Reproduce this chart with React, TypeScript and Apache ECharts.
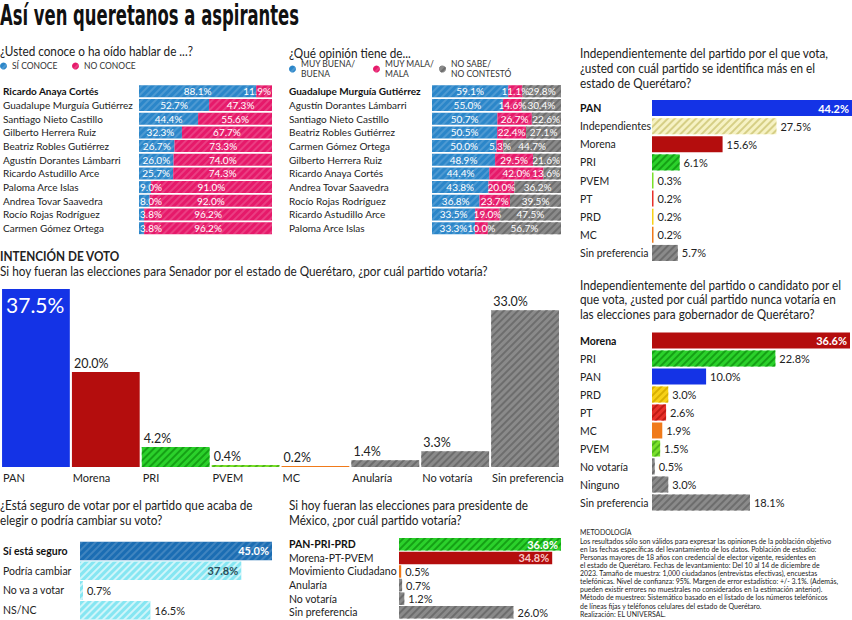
import React, { useEffect, useRef } from 'react';
import * as echarts from 'echarts';

const FONT = 'Lato, "Liberation Sans", sans-serif';
const TITLE_FONT = '"Liberation Sans Narrow", "DejaVu Sans Condensed", Roboto, sans-serif';

// ---------- DATA ----------
const conoceNames = ['Ricardo Anaya Cortés', 'Guadalupe Murguía Gutiérrez', 'Santiago Nieto Castillo', 'Gilberto Herrera Ruiz', 'Beatriz Robles Gutiérrez', 'Agustín Dorantes Lámbarri', 'Ricardo Astudillo Arce', 'Paloma Arce Islas', 'Andrea Tovar Saavedra', 'Rocío Rojas Rodríguez', 'Carmen Gómez Ortega'];
const siConoce = [88.1, 52.7, 44.4, 32.3, 26.7, 26.0, 25.7, 9.0, 8.0, 3.8, 3.8];
const noConoce = [11.9, 47.3, 55.6, 67.7, 73.3, 74.0, 74.3, 91.0, 92.0, 96.2, 96.2];

const opinionNames = ['Guadalupe Murguía Gutiérrez', 'Agustín Dorantes Lámbarri', 'Santiago Nieto Castillo', 'Beatriz Robles Gutiérrez', 'Carmen Gómez Ortega', 'Gilberto Herrera Ruiz', 'Ricardo Anaya Cortés', 'Andrea Tovar Saavedra', 'Rocío Rojas Rodríguez', 'Ricardo Astudillo Arce', 'Paloma Arce Islas'];
const opBuena = [59.1, 55.0, 50.7, 50.5, 50.0, 48.9, 44.4, 43.8, 36.8, 33.5, 33.3];
const opMala = [11.1, 14.6, 26.7, 22.4, 5.3, 29.5, 42.0, 20.0, 23.7, 19.0, 10.0];
const opNoSabe = [29.8, 30.4, 22.6, 27.1, 44.7, 21.6, 13.6, 36.2, 39.5, 47.5, 56.7];

const identCats = ['PAN', 'Independientes', 'Morena', 'PRI', 'PVEM', 'PT', 'PRD', 'MC', 'Sin preferencia'];
const identVals = [44.2, 27.5, 15.6, 6.1, 0.3, 0.2, 0.2, 0.2, 5.7];

const senadoCats = ['PAN', 'Morena', 'PRI', 'PVEM', 'MC', 'Anularía', 'No votaría', 'Sin preferencia'];
const senadoVals = [37.5, 20.0, 4.2, 0.4, 0.2, 1.4, 3.3, 33.0];

const nuncaCats = ['Morena', 'PRI', 'PAN', 'PRD', 'PT', 'MC', 'PVEM', 'No votaría', 'Ninguno', 'Sin preferencia'];
const nuncaVals = [36.6, 22.8, 10.0, 3.0, 2.6, 1.9, 1.5, 0.5, 3.0, 18.1];

const seguroCats = ['Sí está seguro', 'Podría cambiar', 'No va a votar', 'NS/NC'];
const seguroVals = [45.0, 37.8, 0.7, 16.5];

const presiCats = ['PAN-PRI-PRD', 'Morena-PT-PVEM', 'Movimiento Ciudadano', 'Anularía', 'No votaría', 'Sin preferencia'];
const presiVals = [36.8, 34.8, 0.5, 0.7, 1.2, 26.0];

const METODOLOGIA = 'Los resultados sólo son válidos para expresar las opiniones de la población objetivo\nen las fechas específicas del levantamiento de los datos. Población de estudio:\nPersonas mayores de 18 años con credencial de elector vigente, residentes en\nel estado de Querétaro. Fechas de levantamiento: Del 10 al 14 de diciembre de\n2023. Tamaño de muestra: 1,000 ciudadanos (entrevistas efectivas), encuestas\ntelefónicas. Nivel de confianza: 95%. Margen de error estadístico: +/- 3.1%. (Además,\npueden existir errores no muestrales no considerados en la estimación anterior).\nMétodo de muestreo: Sistemático basado en el listado de los números telefónicos\nde líneas fijas y teléfonos celulares del estado de Querétaro.\nRealización: EL UNIVERSAL.';

// ---------- STYLES ----------
const BLUE = '#2b86c9';
const PINK = '#e6196a';
const GRAY = '#8a8a8a';
const PAN = '#1433e6';
const MORENA = '#b40d0d';
const PRI = '#2bd12b';
const PVEM = '#7ae02a';
const PT = '#e8302a';
const PRD = '#f7d117';
const MC = '#f07a1a';
const INDEP = '#f6f2c4';
const DKBLUE = '#1b6db3';
const CYAN = '#86e6f2';

function hatch(color: string) {
  return { symbol: 'rect', symbolSize: 1, color, dashArrayX: [1, 0], dashArrayY: [1.5, 3], rotation: -Math.PI / 4 };
}
const H_GRAY = hatch('#6d6d6d');
const H_SOFT = hatch('rgba(255,255,255,0.16)');

const pct = (v: number) => v.toFixed(1) + '%';

function catAxis(gridIndex: number, data: string[], margin: number, fontSize = 10.5) {
  return {
    type: 'category', gridIndex, data, inverse: true,
    axisLine: { show: false }, axisTick: { show: false }, splitLine: { show: false },
    axisLabel: {
      interval: 0, align: 'left', margin, color: '#222', fontFamily: FONT, fontSize,
      formatter: (v: string, i: number) => (i === 0 ? `{b|${v}}` : v),
      rich: { b: { fontWeight: 'bold', fontFamily: FONT, fontSize, color: '#111' } },
    },
  };
}
function valAxis(gridIndex: number, max: number) {
  return { type: 'value', gridIndex, min: 0, max, show: false };
}

function hbar(idx: number, vals: number[], colors: string[], decals: any[], barWidth: number, inside: Record<number, string>) {
  return {
    type: 'bar', xAxisIndex: idx, yAxisIndex: idx, barWidth, barMinHeight: 1.5,
    data: vals.map((v, i) => ({
      value: v,
      itemStyle: decals[i] ? { color: colors[i], decal: decals[i] } : { color: colors[i] },
      label: inside[i] !== undefined
        ? { position: 'insideRight', distance: 3, color: inside[i], fontWeight: 'bold' }
        : {},
    })),
    label: {
      show: true, position: 'right', distance: 4, fontFamily: FONT, fontSize: 11, color: '#222',
      formatter: (p: any) => pct(p.value),
    },
  };
}

const SX = 0.87;
const gtext = (text: string, x: number, y: number, fontSize: number, lineHeight: number, bold = false, scaleX = SX) => ({
  type: 'text', x, y, scaleX,
  style: { text, fontSize, lineHeight, fontWeight: bold ? 'bold' : 'normal', fontFamily: FONT, fill: '#222', verticalAlign: 'top' },
});

const legendItem = (name: string, left: number, top: number) => ({
  data: [name], left, top, padding: 0, itemGap: 0, icon: 'circle', itemWidth: 7, itemHeight: 7,
  selectedMode: false,
  textStyle: { fontFamily: FONT, fontSize: 8.5, color: '#333', lineHeight: 10 },
});

export default function App() {
  const ref = useRef<HTMLDivElement>(null);
  useEffect(() => {
    if (!ref.current) return;
    const chart = echarts.init(ref.current, undefined, { renderer: 'svg' });
    const segLabel = { show: true, position: 'inside', color: '#fff', fontFamily: FONT, fontSize: 10, formatter: (p: any) => pct(p.value) };
    const endLabel = (limit: number) => (v: number) => (v < limit ? { value: v, label: { position: 'insideRight', distance: 1 } } : v);
    const option: any = {
      animation: false,
      backgroundColor: '#fff',
      graphic: [
        {
          type: 'text', x: 0, y: 1, scaleX: 0.63,
          style: { text: 'Así ven queretanos a aspirantes', fontSize: 29, fontWeight: 'bold', fontFamily: TITLE_FONT, fill: '#111', verticalAlign: 'top' },
        },
        gtext('¿Usted conoce o ha oído hablar de ...?', 0, 44, 13.5, 15),
        gtext('¿Qué opinión tiene de...', 289, 46, 13.5, 15),
        gtext('Independientemente del partido por el que vota,\n¿usted con cuál partido se identifica más en el\nestado de Querétaro?', 580, 46, 13.5, 14.7),
        gtext('INTENCIÓN DE VOTO', 0, 249, 13.5, 15, true),
        gtext('Si hoy fueran las elecciones para Senador por el estado de Querétaro, ¿por cuál partido votaría?', 0, 264, 13.5, 15),
        gtext('Independientemente del partido o candidato por el\nque vota, ¿usted por cuál partido nunca votaría en\nlas elecciones para gobernador de Querétaro?', 580, 278, 13.5, 14.3),
        gtext('¿Está seguro de votar por el partido que acaba de\nelegir o podría cambiar su voto?', 0, 498, 13.5, 14.5),
        gtext('Si hoy fueran las elecciones para presidente de\nMéxico, ¿por cuál partido votaría?', 289, 498, 13.5, 14.5),
        gtext('METODOLOGÍA', 580, 528, 8, 9),
        gtext(METODOLOGIA, 580, 537, 8, 8.1),
      ],
      legend: [
        legendItem('SÍ CONOCE', 0, 61),
        legendItem('NO CONOCE', 72, 61),
        legendItem('MUY BUENA/\nBUENA', 289, 59),
        legendItem('MUY MALA/\nMALA', 373, 59),
        legendItem('NO SABE/\nNO CONTESTÓ', 439, 59),
      ],
      grid: [
        { left: 137, top: 84.5, width: 135, height: 150.5 },
        { left: 432, top: 84.5, width: 129, height: 150.5 },
        { left: 652, top: 99, width: 200, height: 163 },
        { left: 0, top: 289, width: 560, height: 178 },
        { left: 652, top: 331.5, width: 198, height: 180 },
        { left: 77, top: 541, width: 195, height: 81 },
        { left: 399, top: 537.5, width: 162, height: 81.5 },
      ],
      xAxis: [
        valAxis(0, 100),
        valAxis(1, 100),
        valAxis(2, 44.2),
        {
          type: 'category', gridIndex: 3, data: senadoCats,
          axisLine: { show: false }, axisTick: { show: false },
          axisLabel: {
            interval: 0, margin: 5,
            formatter: (v: string) => `{a|${v}}`,
            rich: { a: { width: 66, align: 'left', fontFamily: FONT, fontSize: 11, color: '#222' } },
          },
        },
        valAxis(4, 36.6),
        valAxis(5, 45),
        valAxis(6, 36.8),
      ],
      yAxis: [
        catAxis(0, conoceNames, 136, 10),
        catAxis(1, opinionNames, 143, 10),
        catAxis(2, identCats, 72),
        { type: 'value', gridIndex: 3, min: 0, max: 37.5, show: false },
        catAxis(4, nuncaCats, 72),
        catAxis(5, seguroCats, 77),
        catAxis(6, presiCats, 110),
      ],
      series: [
        {
          name: 'SÍ CONOCE', type: 'bar', stack: 'c1', xAxisIndex: 0, yAxisIndex: 0, barWidth: 12,
          itemStyle: { color: BLUE, decal: H_SOFT }, label: segLabel,
          data: siConoce.map((v) => (v < 12 ? { value: v, label: { position: 'insideLeft', distance: 1 } } : v)),
        },
        {
          name: 'NO CONOCE', type: 'bar', stack: 'c1', xAxisIndex: 0, yAxisIndex: 0, barWidth: 12,
          itemStyle: { color: PINK, decal: H_SOFT }, label: segLabel, data: noConoce.map(endLabel(20)),
        },
        {
          name: 'MUY BUENA/\nBUENA', type: 'bar', stack: 'c2', xAxisIndex: 1, yAxisIndex: 1, barWidth: 12,
          itemStyle: { color: BLUE, decal: H_SOFT }, label: segLabel, data: opBuena,
        },
        {
          name: 'MUY MALA/\nMALA', type: 'bar', stack: 'c2', xAxisIndex: 1, yAxisIndex: 1, barWidth: 12,
          itemStyle: { color: PINK, decal: H_SOFT }, label: segLabel, data: opMala,
        },
        {
          name: 'NO SABE/\nNO CONTESTÓ', type: 'bar', stack: 'c2', xAxisIndex: 1, yAxisIndex: 1, barWidth: 12,
          itemStyle: { color: GRAY, decal: H_GRAY }, label: segLabel, data: opNoSabe.map(endLabel(25)),
        },
        hbar(2, identVals,
          [PAN, INDEP, MORENA, PRI, PVEM, PT, PRD, MC, GRAY],
          [null, hatch('#d6cf86'), null, hatch('#15a015'), null, null, null, null, H_GRAY],
          16, { 0: '#fff' }),
        {
          type: 'bar', xAxisIndex: 3, yAxisIndex: 3, barCategoryGap: '3%', barMinHeight: 1,
          data: senadoVals.map((v, i) => {
            const colors = [PAN, MORENA, PRI, PVEM, MC, GRAY, GRAY, GRAY];
            const decals = [null, null, hatch('#15a015'), hatch('#4fb51a'), null, H_GRAY, H_GRAY, H_GRAY];
            return {
              value: v,
              itemStyle: decals[i] ? { color: colors[i], decal: decals[i] } : { color: colors[i] },
              label: i === 0 ? { offset: [-1, 0], color: '#fff', fontSize: 21 } : {},
            };
          }),
          label: {
            show: true, position: 'insideTopLeft', offset: [-3, -20], fontFamily: FONT, fontSize: 12.5, color: '#222',
            formatter: (p: any) => pct(p.value),
          },
        },
        hbar(4, nuncaVals,
          [MORENA, PRI, PAN, PRD, PT, MC, PVEM, GRAY, GRAY, GRAY],
          [null, hatch('#15a015'), null, hatch('#d8b000'), hatch('#c01a14'), null, hatch('#4fb51a'), H_GRAY, H_GRAY, H_GRAY],
          16, { 0: '#fff' }),
        hbar(5, seguroVals,
          [DKBLUE, CYAN, CYAN, CYAN],
          [H_SOFT, hatch('rgba(255,255,255,0.6)'), hatch('rgba(255,255,255,0.6)'), hatch('rgba(255,255,255,0.6)')],
          18.5, { 0: '#fff', 1: '#2d4f5a' }),
        hbar(6, presiVals,
          [PRI, MORENA, MC, GRAY, GRAY, GRAY],
          [hatch('#15a015'), null, null, H_GRAY, H_GRAY, H_GRAY],
          12.5, { 0: '#fff', 1: '#f7c8c8' }),
      ],
    };
    chart.setOption(option);
    return () => chart.dispose();
  }, []);
  return <div ref={ref} style={{ position: 'fixed', left: 0, top: 0, width: 852, height: 620, background: '#fff' }} />;
}
